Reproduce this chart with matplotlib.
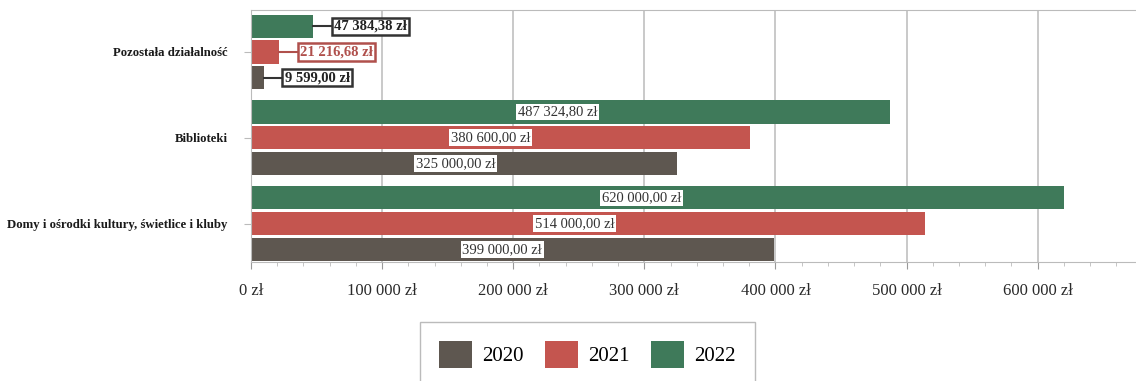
import matplotlib.pyplot as plt
import numpy as np

categories = ['Domy i ośrodki kultury, świetlice i kluby', 'Biblioteki', 'Pozostała działalność']
years = ['2020', '2021', '2022']
v2020 = [399000.00, 325000.00, 9599.00]
v2021 = [514000.00, 380600.00, 21216.68]
v2022 = [620000.00, 487324.80, 47384.38]
xticks = [0, 100000, 200000, 300000, 400000, 500000, 600000]

colors = ['#5e5750', '#c4554f', '#3f7a5a']


def fmt(v, dec=True):
    s = f'{v:,.2f}' if dec else f'{v:,.0f}'
    s = s.replace(',', ' ').replace('.', ',')
    return s + ' zł'


def main():
    plt.rcParams['font.family'] = ['Liberation Serif', 'DejaVu Serif']

    fig = plt.figure(figsize=(11.36, 3.81), dpi=100)
    ax = fig.add_axes([0.221, 0.312, 0.779, 0.662])

    y = np.arange(len(categories))
    off = 0.30
    h = 0.27
    series = [v2020, v2021, v2022]
    for i, vals in enumerate(series):
        ypos = y + (i - 1) * off
        ax.barh(ypos, vals, height=h, color=colors[i], label=years[i], zorder=2)
        for yy, v, cat in zip(ypos, vals, categories):
            if cat == 'Pozostała działalność':
                gap = 16000
                ec = '#b0504c' if i == 1 else '#333333'
                tc = '#b0504c' if i == 1 else '#222222'
                ax.plot([v, v + gap], [yy, yy], color=ec, lw=1.5, zorder=3)
                ax.text(v + gap, yy, fmt(v), ha='left', va='center', fontsize=10.5,
                        fontweight='bold', color=tc, zorder=4,
                        bbox=dict(boxstyle='square,pad=0.15', fc='white', ec=ec, lw=1.8))
            else:
                ax.text(v * 0.48, yy, fmt(v), ha='center', va='center', fontsize=10.5,
                        color='#333333', zorder=4,
                        bbox=dict(boxstyle='square,pad=0.12', fc='white', ec='none'))

    ax.set_xlim(0, 675000)
    ax.set_ylim(-0.45, 2.49)
    ax.set_yticks(y)
    ax.set_yticklabels(categories, fontsize=9.2, fontweight='bold', color='#1a1a1a')
    ax.set_xticks(xticks)
    ax.set_xticklabels([fmt(t, dec=False) for t in xticks], fontsize=12, color='#2a2a2a')
    ax.set_xticks(np.arange(0, 675000, 20000), minor=True)
    ax.tick_params(axis='x', which='major', length=5, color='#999999', pad=10)
    ax.tick_params(axis='x', which='minor', length=3, color='#bbbbbb')
    ax.tick_params(axis='y', length=5, color='#bbbbbb', pad=12)
    ax.grid(axis='x', color='#c0c0c0', lw=1.2, zorder=0)
    for s in ['left', 'bottom', 'top']:
        ax.spines[s].set_color('#bbbbbb')
    ax.spines['right'].set_visible(False)

    fig.legend(loc='upper center', bbox_to_anchor=(0.517, 0.181), ncol=3, fontsize=15,
               handlelength=1.6, handleheight=1.6, borderpad=0.9, columnspacing=1.0,
               handletextpad=0.5, fancybox=False, edgecolor='#bbbbbb', framealpha=1)

    plt.savefig('out.png', dpi=100)


if __name__ == "__main__":
    main()
